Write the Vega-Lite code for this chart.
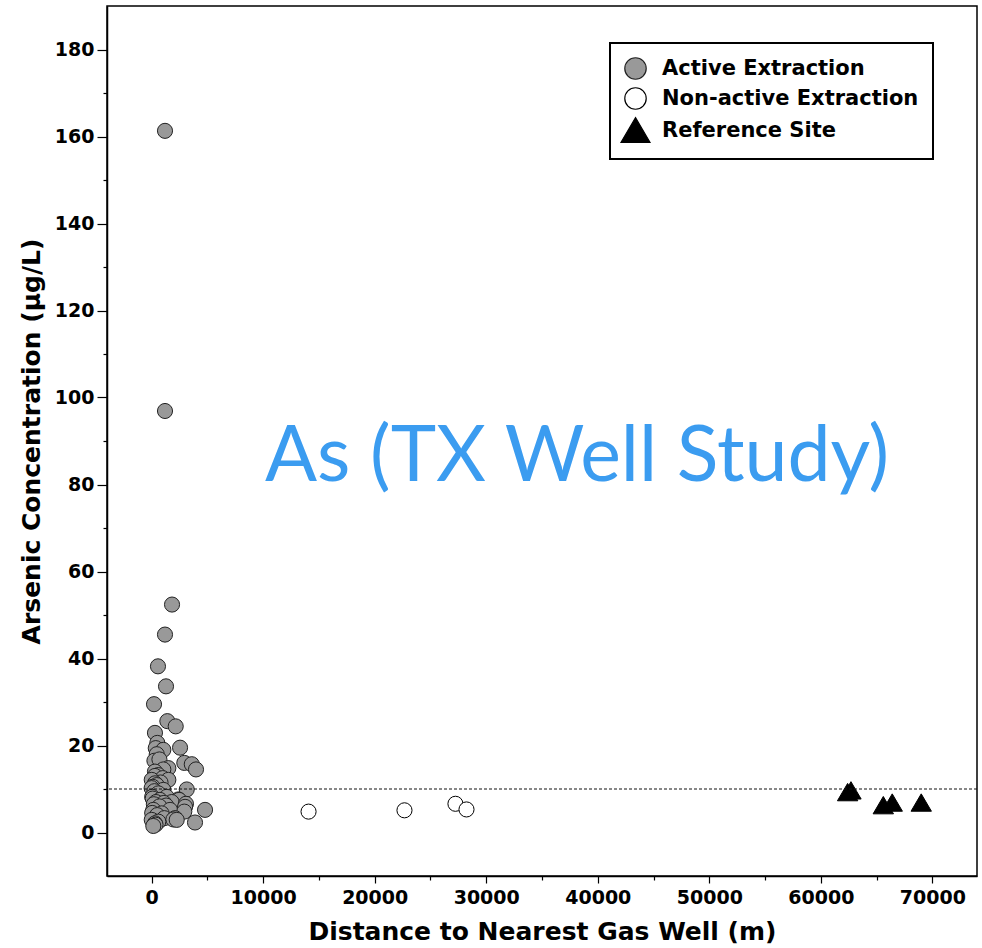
{
  "$schema": "https://vega.github.io/schema/vega-lite/v6.json",
  "width": 870,
  "height": 870,
  "autosize": {"type": "none"},
  "padding": {"left": 107, "top": 6, "right": 5, "bottom": 72},
  "background": "white",
  "config": {
    "view": {"stroke": "black", "strokeWidth": 1.5},
    "axis": {
      "grid": false,
      "domainColor": "black",
      "domainWidth": 1.5,
      "tickColor": "black",
      "tickWidth": 1.2,
      "labelFont": "DejaVu Sans",
      "labelFontWeight": "bold",
      "labelColor": "black",
      "titleFont": "DejaVu Sans",
      "titleFontWeight": "bold",
      "titleColor": "black"
    },
    "legend": {
      "orient": "none",
      "legendX": 503,
      "legendY": 37,
      "strokeColor": "black",
      "strokeWidth": 2,
      "fillColor": "white",
      "padding": 14,
      "labelFont": "DejaVu Sans",
      "labelFontWeight": "bold",
      "labelFontSize": 21,
      "labelColor": "black",
      "labelLimit": 400,
      "labelOffset": 15,
      "symbolSize": 460,
      "symbolStrokeWidth": 1.2,
      "rowPadding": 3
    }
  },
  "datasets": {
    "wells": [
      {"distance_m": 1200, "arsenic_ugL": 161.3, "site": "Active Extraction"},
      {"distance_m": 1200, "arsenic_ugL": 96.9, "site": "Active Extraction"},
      {"distance_m": 1830, "arsenic_ugL": 52.4, "site": "Active Extraction"},
      {"distance_m": 1200, "arsenic_ugL": 45.5, "site": "Active Extraction"},
      {"distance_m": 570, "arsenic_ugL": 38.2, "site": "Active Extraction"},
      {"distance_m": 1290, "arsenic_ugL": 33.6, "site": "Active Extraction"},
      {"distance_m": 215, "arsenic_ugL": 29.5, "site": "Active Extraction"},
      {"distance_m": 1410, "arsenic_ugL": 25.6, "site": "Active Extraction"},
      {"distance_m": 2160, "arsenic_ugL": 24.4, "site": "Active Extraction"},
      {"distance_m": 300, "arsenic_ugL": 22.9, "site": "Active Extraction"},
      {"distance_m": 510, "arsenic_ugL": 20.6, "site": "Active Extraction"},
      {"distance_m": 370, "arsenic_ugL": 19.4, "site": "Active Extraction"},
      {"distance_m": 1050, "arsenic_ugL": 19.0, "site": "Active Extraction"},
      {"distance_m": 2550, "arsenic_ugL": 19.5, "site": "Active Extraction"},
      {"distance_m": 460, "arsenic_ugL": 18.0, "site": "Active Extraction"},
      {"distance_m": 250, "arsenic_ugL": 16.5, "site": "Active Extraction"},
      {"distance_m": 700, "arsenic_ugL": 16.8, "site": "Active Extraction"},
      {"distance_m": 2930, "arsenic_ugL": 16.0, "site": "Active Extraction"},
      {"distance_m": 3600, "arsenic_ugL": 15.7, "site": "Active Extraction"},
      {"distance_m": 3980, "arsenic_ugL": 14.5, "site": "Active Extraction"},
      {"distance_m": 1500, "arsenic_ugL": 14.8, "site": "Active Extraction"},
      {"distance_m": 1050, "arsenic_ugL": 14.5, "site": "Active Extraction"},
      {"distance_m": 300, "arsenic_ugL": 14.0, "site": "Active Extraction"},
      {"distance_m": 600, "arsenic_ugL": 13.2, "site": "Active Extraction"},
      {"distance_m": 300, "arsenic_ugL": 13.0, "site": "Active Extraction"},
      {"distance_m": 1000, "arsenic_ugL": 12.5, "site": "Active Extraction"},
      {"distance_m": 1500, "arsenic_ugL": 12.1, "site": "Active Extraction"},
      {"distance_m": 10, "arsenic_ugL": 12.1, "site": "Active Extraction"},
      {"distance_m": 800, "arsenic_ugL": 11.5, "site": "Active Extraction"},
      {"distance_m": 300, "arsenic_ugL": 11.3, "site": "Active Extraction"},
      {"distance_m": 460, "arsenic_ugL": 10.9, "site": "Active Extraction"},
      {"distance_m": 100, "arsenic_ugL": 10.5, "site": "Active Extraction"},
      {"distance_m": 0, "arsenic_ugL": 10.2, "site": "Active Extraction"},
      {"distance_m": 3150, "arsenic_ugL": 9.9, "site": "Active Extraction"},
      {"distance_m": 1050, "arsenic_ugL": 9.8, "site": "Active Extraction"},
      {"distance_m": 250, "arsenic_ugL": 9.5, "site": "Active Extraction"},
      {"distance_m": 600, "arsenic_ugL": 9.0, "site": "Active Extraction"},
      {"distance_m": 1350, "arsenic_ugL": 8.2, "site": "Active Extraction"},
      {"distance_m": 50, "arsenic_ugL": 8.2, "site": "Active Extraction"},
      {"distance_m": 100, "arsenic_ugL": 7.8, "site": "Active Extraction"},
      {"distance_m": 2390, "arsenic_ugL": 7.6, "site": "Active Extraction"},
      {"distance_m": 750, "arsenic_ugL": 7.5, "site": "Active Extraction"},
      {"distance_m": 2460, "arsenic_ugL": 7.5, "site": "Active Extraction"},
      {"distance_m": 1800, "arsenic_ugL": 7.0, "site": "Active Extraction"},
      {"distance_m": 400, "arsenic_ugL": 7.0, "site": "Active Extraction"},
      {"distance_m": 1100, "arsenic_ugL": 6.8, "site": "Active Extraction"},
      {"distance_m": 3080, "arsenic_ugL": 6.6, "site": "Active Extraction"},
      {"distance_m": 200, "arsenic_ugL": 6.5, "site": "Active Extraction"},
      {"distance_m": 1300, "arsenic_ugL": 6.2, "site": "Active Extraction"},
      {"distance_m": 700, "arsenic_ugL": 6.0, "site": "Active Extraction"},
      {"distance_m": 3000, "arsenic_ugL": 5.9, "site": "Active Extraction"},
      {"distance_m": 4790, "arsenic_ugL": 5.2, "site": "Active Extraction"},
      {"distance_m": 1650, "arsenic_ugL": 5.2, "site": "Active Extraction"},
      {"distance_m": 150, "arsenic_ugL": 5.2, "site": "Active Extraction"},
      {"distance_m": 2930, "arsenic_ugL": 4.8, "site": "Active Extraction"},
      {"distance_m": 50, "arsenic_ugL": 4.5, "site": "Active Extraction"},
      {"distance_m": 900, "arsenic_ugL": 4.4, "site": "Active Extraction"},
      {"distance_m": 500, "arsenic_ugL": 4.0, "site": "Active Extraction"},
      {"distance_m": 1140, "arsenic_ugL": 3.3, "site": "Active Extraction"},
      {"distance_m": 2100, "arsenic_ugL": 3.3, "site": "Active Extraction"},
      {"distance_m": 1950, "arsenic_ugL": 3.0, "site": "Active Extraction"},
      {"distance_m": 10, "arsenic_ugL": 2.9, "site": "Active Extraction"},
      {"distance_m": 2250, "arsenic_ugL": 2.9, "site": "Active Extraction"},
      {"distance_m": 600, "arsenic_ugL": 2.5, "site": "Active Extraction"},
      {"distance_m": 3890, "arsenic_ugL": 2.3, "site": "Active Extraction"},
      {"distance_m": 300, "arsenic_ugL": 2.1, "site": "Active Extraction"},
      {"distance_m": 350, "arsenic_ugL": 1.8, "site": "Active Extraction"},
      {"distance_m": 150, "arsenic_ugL": 1.5, "site": "Active Extraction"},
      {"distance_m": 14070, "arsenic_ugL": 4.8, "site": "Non-active Extraction"},
      {"distance_m": 22670, "arsenic_ugL": 5.1, "site": "Non-active Extraction"},
      {"distance_m": 27240, "arsenic_ugL": 6.6, "site": "Non-active Extraction"},
      {"distance_m": 28230, "arsenic_ugL": 5.3, "site": "Non-active Extraction"},
      {"distance_m": 62400, "arsenic_ugL": 9.2, "site": "Reference Site"},
      {"distance_m": 62700, "arsenic_ugL": 9.6, "site": "Reference Site"},
      {"distance_m": 65600, "arsenic_ugL": 6.2, "site": "Reference Site"},
      {"distance_m": 66400, "arsenic_ugL": 6.8, "site": "Reference Site"},
      {"distance_m": 69000, "arsenic_ugL": 6.8, "site": "Reference Site"}
    ]
  },
  "resolve": {"axis": {"x": "independent", "y": "independent"}},
  "layer": [
    {
      "data": {"name": "wells"},
      "mark": {"type": "point", "filled": true, "opacity": 1, "size": 228, "strokeWidth": 1},
      "encoding": {
        "x": {
          "field": "distance_m",
          "type": "quantitative",
          "scale": {"domain": [-4000, 74000], "nice": false, "zero": false},
          "axis": {
            "orient": "bottom",
            "values": [0, 10000, 20000, 30000, 40000, 50000, 60000, 70000],
            "format": "d",
            "tickSize": 7,
            "labelFontSize": 19,
            "labelPadding": 5,
            "title": "Distance to Nearest Gas Well (m)",
            "titleFontSize": 25,
            "titlePadding": 12
          }
        },
        "y": {
          "field": "arsenic_ugL",
          "type": "quantitative",
          "scale": {"domain": [-10, 190], "nice": false, "zero": false},
          "axis": {
            "orient": "left",
            "values": [0, 20, 40, 60, 80, 100, 120, 140, 160, 180],
            "tickSize": 10,
            "labelFontSize": 19,
            "labelPadding": 3,
            "title": "Arsenic Concentration (μg/L)",
            "titleFontSize": 25,
            "titlePadding": 10
          }
        },
        "fill": {
          "field": "site",
          "type": "nominal",
          "scale": {
            "domain": ["Active Extraction", "Non-active Extraction", "Reference Site"],
            "range": ["#999999", "#ffffff", "#000000"]
          },
          "legend": {"title": null}
        },
        "stroke": {
          "field": "site",
          "type": "nominal",
          "scale": {
            "domain": ["Active Extraction", "Non-active Extraction", "Reference Site"],
            "range": ["#222222", "#000000", "#000000"]
          },
          "legend": {"title": null}
        },
        "shape": {
          "field": "site",
          "type": "nominal",
          "scale": {
            "domain": ["Active Extraction", "Non-active Extraction", "Reference Site"],
            "range": ["circle", "circle", "M0,-1.2L1.35,1.1L-1.35,1.1Z"]
          },
          "legend": {"title": null}
        }
      }
    },
    {
      "data": {"values": [{}]},
      "mark": {"type": "rule", "color": "#111111", "strokeWidth": 1, "strokeDash": [3, 2]},
      "encoding": {
        "y": {
          "datum": 10,
          "type": "quantitative",
          "scale": {"domain": [-10, 190], "nice": false, "zero": false},
          "axis": {
            "orient": "left",
            "values": [10, 30, 50, 70, 90, 110, 130, 150, 170],
            "tickSize": 4,
            "labels": false,
            "domain": false,
            "title": null
          }
        }
      }
    },
    {
      "data": {"values": [{}]},
      "mark": {
        "type": "text",
        "text": "As (TX Well Study)",
        "font": "Lato",
        "fontSize": 77,
        "color": "#3b9cf0",
        "align": "center",
        "baseline": "alphabetic"
      },
      "encoding": {
        "x": {
          "datum": 38140,
          "type": "quantitative",
          "scale": {"domain": [-4000, 74000], "nice": false, "zero": false},
          "axis": {
            "orient": "bottom",
            "values": [5000, 15000, 25000, 35000, 45000, 55000, 65000],
            "tickSize": 4,
            "labels": false,
            "domain": false,
            "title": null
          }
        },
        "y": {
          "datum": 80.8,
          "type": "quantitative",
          "scale": {"domain": [-10, 190], "nice": false, "zero": false},
          "axis": null
        }
      }
    }
  ]
}
